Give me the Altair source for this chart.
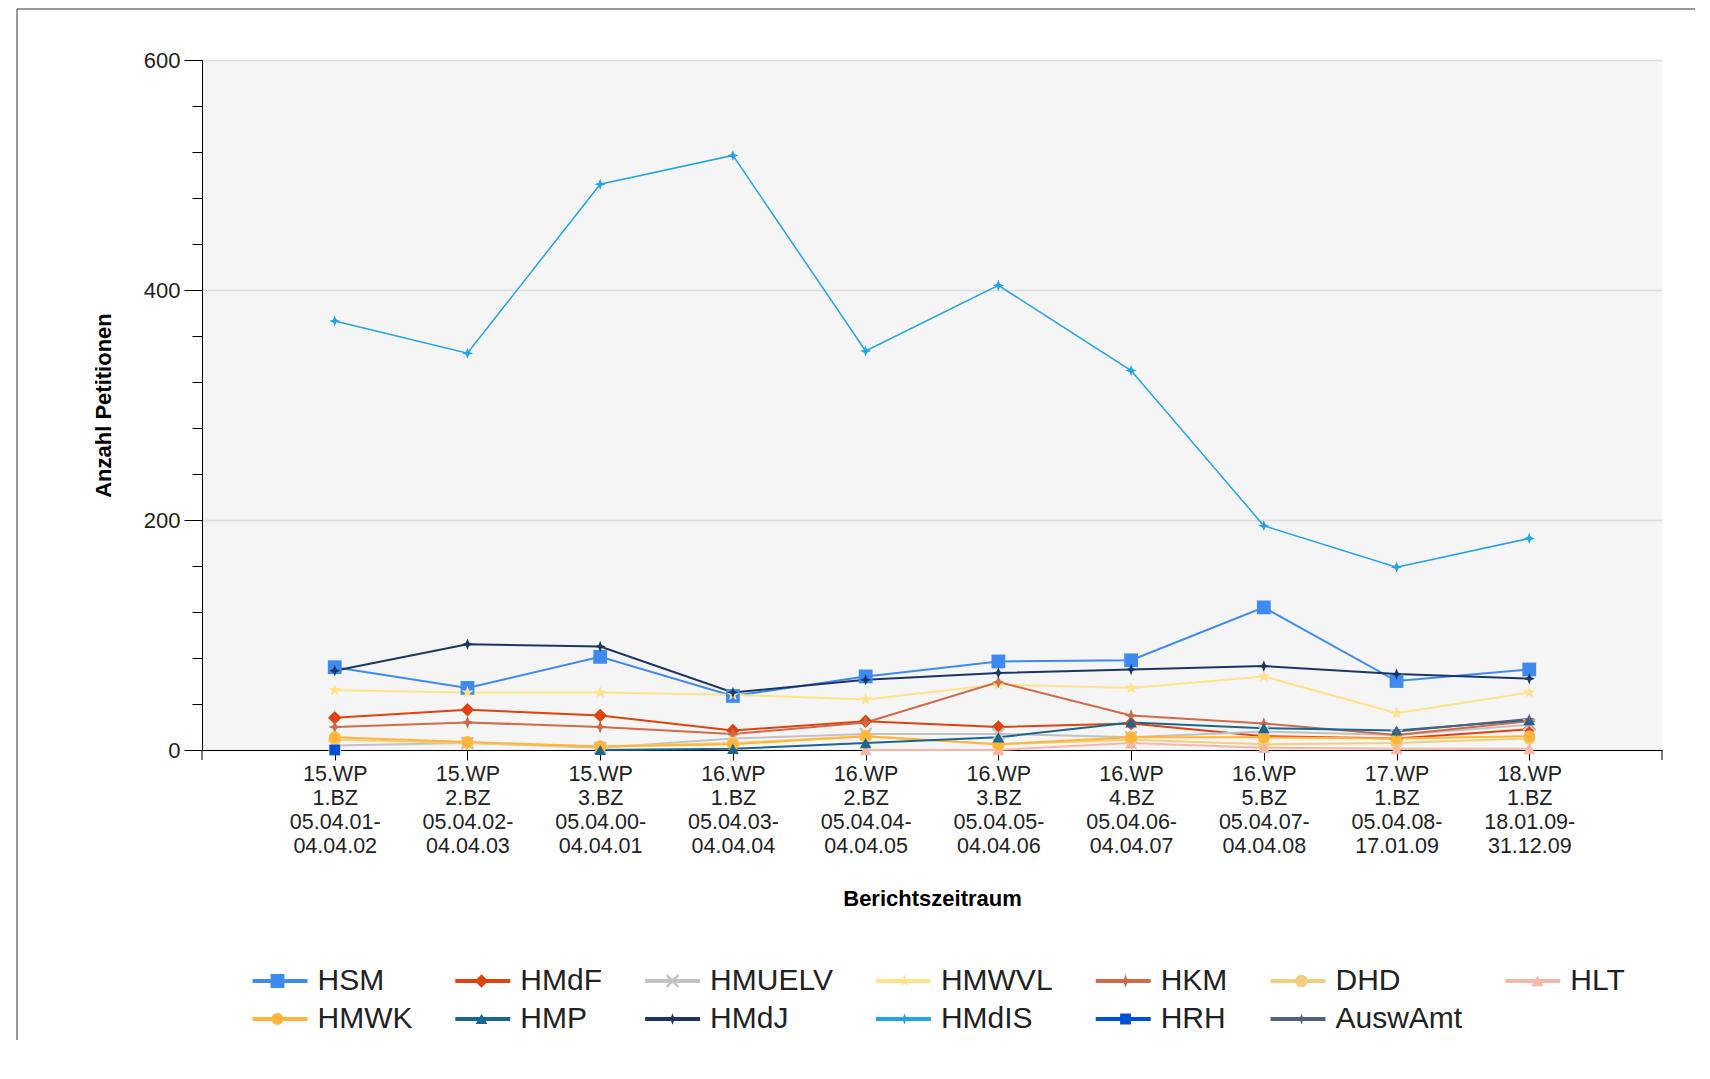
import altair as alt
import pandas as pd

categories = [
    "15.WP|1.BZ|05.04.01-|04.04.02",
    "15.WP|2.BZ|05.04.02-|04.04.03",
    "15.WP|3.BZ|05.04.00-|04.04.01",
    "16.WP|1.BZ|05.04.03-|04.04.04",
    "16.WP|2.BZ|05.04.04-|04.04.05",
    "16.WP|3.BZ|05.04.05-|04.04.06",
    "16.WP|4.BZ|05.04.06-|04.04.07",
    "16.WP|5.BZ|05.04.07-|04.04.08",
    "17.WP|1.BZ|05.04.08-|17.01.09",
    "18.WP|1.BZ|18.01.09-|31.12.09",
]

HSM = [72, 54, 81, 47, 64, 77, 78, 124, 60, 70]
HMdF = [28, 35, 30, 17, 25, 20, 23, 12, 10, 18]
HMUELV = [4, 6, 2, 10, 14, 14, 11, 16, 13, 22]
HMWVL = [52, 50, 50, 48, 44, 57, 54, 64, 32, 50]
HKM = [20, 24, 20, 14, 24, 59, 30, 23, 13, 25]
DHD = [9, 6, 3, 6, 12, 5, 9, 5, 6, 10]
HLT = [None, None, None, None, 0, 0, 6, 2, 1, 1]
HMWK = [11, 7, 3, 5, 12, 5, 11, 11, 10, 12]
HMP = [None, None, 0, 1, 6, 11, 24, 19, 17, 26]
HMdJ = [69, 92, 90, 50, 61, 67, 70, 73, 66, 62]
HMdIS = [373, 345, 492, 517, 347, 404, 330, 195, 159, 184]
HRH = [0, None, None, None, None, None, None, None, None, None]
AuswAmt = [None, None, None, None, None, None, None, None, 16, 27]

series_names = ["HSM", "HMdF", "HMUELV", "HMWVL", "HKM", "DHD", "HLT",
                "HMWK", "HMP", "HMdJ", "HMdIS", "HRH", "AuswAmt"]
series_values = [HSM, HMdF, HMUELV, HMWVL, HKM, DHD, HLT,
                 HMWK, HMP, HMdJ, HMdIS, HRH, AuswAmt]
series_colors = ["#3d8af0", "#e0420e", "#c2c2c2", "#ffe38a", "#d06a48", "#f2cf7a", "#f5b7a6",
                 "#ffb43a", "#1a6690", "#1c3664", "#22a4e2", "#0050d8", "#52607e"]

star5 = ("M0,-1L0.235,-0.324L0.951,-0.309L0.380,0.124L0.588,0.809L0,0.4"
         "L-0.588,0.809L-0.380,0.124L-0.951,-0.309L-0.235,-0.324Z")
star4 = "M0,-1L0.28,-0.28L1,0L0.28,0.28L0,1L-0.28,0.28L-1,0L-0.28,-0.28Z"
xshape = "M-0.75,-1L0,-0.25L0.75,-1L1,-0.75L0.25,0L1,0.75L0.75,1L0,0.25L-0.75,1L-1,0.75L-0.25,0L-1,-0.75Z"
series_shapes = ["square", "diamond", xshape, star5, star4, "circle", "triangle-up",
                 "circle", "triangle-up", star4, star4, "square", star4]
series_sizes = [190, 110, 100, 170, 120, 110, 100, 110, 110, 150, 110, 160, 120]
series_widths = [2, 2, 2, 2, 2, 2, 2, 2, 2, 2, 1.5, 2, 2]

rows = []
for name, vals, w in zip(series_names, series_values, series_widths):
    for i, (c, v) in enumerate(zip(categories, vals)):
        if v is not None:
            rows.append({"cat": c, "series": name, "value": v, "order": i, "w": w})
df = pd.DataFrame(rows)

FONT = "Liberation Sans"

x_scale = alt.Scale(type="point", padding=1, domain=categories)
y_scale = alt.Scale(domain=[0, 600], nice=False)

x_axis = alt.Axis(
    orient="bottom",
    labelExpr="split(datum.label, '|')",
    labelAngle=0,
    labelFontSize=21.5,
    labelLineHeight=24,
    labelColor="#222222",
    labelPadding=3,
    tickSize=10,
    tickColor="black",
    domainColor="black",
    grid=False,
    title="Berichtszeitraum",
    titleFontSize=22,
    titleFontWeight="bold",
    titleColor="black",
    titlePadding=32,
)

y_axis = alt.Axis(
    orient="left",
    values=list(range(0, 601, 40)),
    labelExpr="datum.value % 200 === 0 ? datum.label : ''",
    tickSize={"condition": {"test": "datum.value % 200 === 0", "value": 18}, "value": 10},
    gridOpacity={"condition": {"test": "datum.value % 200 === 0", "value": 1}, "value": 0},
    gridColor="#dcdcdc",
    gridWidth=1.5,
    tickColor="black",
    domainColor="black",
    labelFontSize=22,
    labelColor="#222222",
    labelPadding=4,
    title="Anzahl Petitionen",
    titleFontSize=22,
    titleFontWeight="bold",
    titleColor="black",
    titlePadding=28,
)

legend_common = dict(
    title=None,
    orient="none",
    direction="horizontal",
    columns=7,
    labelFontSize=30,
    labelFont=FONT,
    labelColor="#222222",
    clipHeight=34,
    rowPadding=4,
    legendY=904,
)

line_layer = alt.Chart(df).mark_line().encode(
    x=alt.X("cat:N", scale=x_scale, axis=x_axis),
    y=alt.Y("value:Q", scale=y_scale, axis=y_axis),
    color=alt.Color(
        "series:N",
        scale=alt.Scale(domain=series_names, range=series_colors),
        legend=alt.Legend(
            symbolType="stroke",
            symbolSize=3025,
            symbolStrokeWidth=4,
            labelOffset=8,
            columnPadding=40.8,
            legendX=48.5,
            **legend_common,
        ),
    ),
    strokeWidth=alt.StrokeWidth("w:Q", scale=None),
    detail="series:N",
    order="order:Q",
)

point_layer = alt.Chart(df).mark_point(filled=True, opacity=1).encode(
    x=alt.X("cat:N", scale=x_scale, axis=x_axis),
    y=alt.Y("value:Q", scale=y_scale, axis=y_axis),
    color=alt.Color(
        "series:N",
        scale=alt.Scale(domain=series_names, range=series_colors),
        legend=alt.Legend(
            symbolSize=100,
            labelOffset=30.75,
            labelOpacity=0,
            columnPadding=48,
            legendX=60.5,
            **legend_common,
        ),
    ),
    shape=alt.Shape("series:N", scale=alt.Scale(domain=series_names, range=series_shapes)),
    size=alt.Size("series:N", scale=alt.Scale(domain=series_names, range=series_sizes), legend=None),
)

deco_df = pd.DataFrame({"a": [0]})
left_border = alt.Chart(deco_df).mark_rule(color="#333333", strokeWidth=1).encode(
    x=alt.value(-185), y=alt.value(-51), y2=alt.value(980)
)
top_border = alt.Chart(deco_df).mark_rule(color="#333333", strokeWidth=1).encode(
    x=alt.value(-185), x2=alt.value(1493), y=alt.value(-51)
)
x_end_tick_left = alt.Chart(deco_df).mark_rule(color="black", strokeWidth=1).encode(
    x=alt.value(0), y=alt.value(690), y2=alt.value(700)
)
x_end_tick_right = alt.Chart(deco_df).mark_rule(color="black", strokeWidth=1).encode(
    x=alt.value(1460), y=alt.value(690), y2=alt.value(700)
)

chart = alt.layer(
    line_layer, point_layer, left_border, top_border, x_end_tick_left, x_end_tick_right
).resolve_scale(
    color="independent", shape="independent", size="independent"
).properties(
    width=1460,
    height=690,
    padding={"left": 8, "top": 0, "right": 0, "bottom": 0},
    background="white",
).configure(
    font=FONT,
).configure_view(
    fill="#f5f5f5",
    stroke=None,
)

chart.save("out.html", embed_options={"renderer": "svg", "actions": False})
